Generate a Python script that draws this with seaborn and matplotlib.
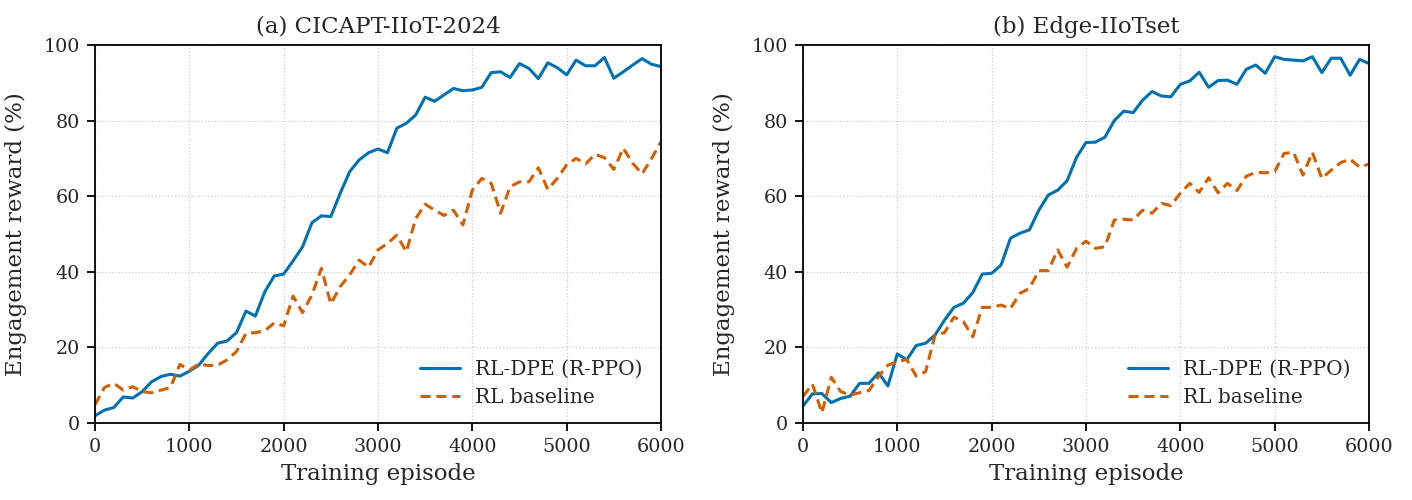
import numpy as np
import pandas as pd
import matplotlib
matplotlib.use("Agg")
import matplotlib.pyplot as plt
import seaborn as sns

# Episodes (every 100)
episodes = list(range(0, 6001, 100))

# (a) CICAPT-IIoT-2024
cicapt_rldpe = [1.9, 3.4, 4.1, 6.9, 6.6, 8.3, 10.9, 12.3, 12.9, 12.4,
                13.7, 15.3, 18.4, 21.1, 21.7, 23.9, 29.6, 28.3, 34.7, 38.9,
                39.4, 42.9, 46.6, 53.0, 54.8, 54.6, 60.8, 66.5, 69.6, 71.5,
                72.5, 71.5, 78.0, 79.3, 81.5, 86.2, 85.1, 86.8, 88.5, 87.9,
                88.1, 88.8, 92.7, 92.9, 91.4, 95.1, 93.8, 91.1, 95.3, 94.0,
                92.1, 96.0, 94.5, 94.5, 96.7, 91.2, 92.9, 94.7, 96.4, 94.9,
                94.3]
cicapt_base = [4.8, 9.4, 10.5, 8.7, 9.6, 8.3, 8.0, 8.7, 9.4, 15.5,
               14.0, 15.6, 15.2, 15.3, 16.7, 18.9, 23.7, 23.9, 24.4, 26.5,
               25.7, 33.6, 29.2, 33.9, 40.9, 31.5, 36.1, 39.2, 43.1, 41.2,
               45.8, 47.5, 49.7, 45.3, 54.1, 57.9, 56.3, 54.9, 56.3, 52.4,
               61.6, 64.7, 63.4, 55.5, 62.5, 63.8, 63.8, 67.5, 61.8, 64.7,
               68.3, 70.0, 68.5, 71.1, 70.2, 67.1, 72.7, 68.7, 65.9, 70.0,
               74.4]

# (b) Edge-IIoTset
edge_rldpe = [4.5, 7.7, 7.8, 5.4, 6.5, 7.1, 10.5, 10.5, 13.3, 9.8,
              18.3, 16.7, 20.5, 21.1, 23.3, 27.2, 30.6, 31.7, 34.5, 39.4,
              39.6, 41.8, 48.9, 50.2, 51.1, 56.3, 60.3, 61.6, 64.1, 70.3,
              74.2, 74.3, 75.6, 80.0, 82.5, 82.1, 85.4, 87.7, 86.5, 86.3,
              89.6, 90.5, 92.8, 88.8, 90.6, 90.7, 89.6, 93.6, 94.7, 92.5,
              96.9, 96.2, 96.0, 95.8, 96.9, 92.7, 96.5, 96.5, 92.0, 96.2,
              95.1]
edge_base = [7.0, 10.3, 2.7, 12.1, 8.3, 7.4, 8.0, 8.6, 12.3, 15.3,
             16.2, 16.8, 12.4, 13.6, 23.3, 23.9, 28.0, 26.8, 22.8, 30.6,
             30.6, 31.2, 30.3, 34.3, 35.6, 40.3, 40.3, 45.8, 41.2, 46.2,
             48.1, 46.2, 46.6, 53.7, 53.9, 53.7, 56.3, 55.5, 58.1, 57.5,
             60.8, 63.4, 61.0, 64.9, 60.9, 63.4, 61.5, 65.3, 66.3, 66.2,
             66.5, 71.3, 71.6, 65.6, 71.6, 64.7, 66.9, 68.9, 69.8, 67.7,
             68.5]

titles = ["(a) CICAPT-IIoT-2024", "(b) Edge-IIoTset"]
methods = ["RL-DPE (R-PPO)", "RL baseline"]

sns.set_style("ticks")
plt.rcParams["font.family"] = ["DejaVu Serif"]

fig, axes = plt.subplots(1, 2, figsize=(14.12, 5.0), dpi=100)
# place the panels where the reference has them (pixels -> figure fractions)
axes[0].set_position([95 / 1412, 77 / 500, 566 / 1412, 378 / 500])
axes[1].set_position([803 / 1412, 77 / 500, 566 / 1412, 378 / 500])

palette = {methods[0]: "#0072B2", methods[1]: "#D55E00"}

for ax, title, ours, base in zip(axes, titles,
                                 [cicapt_rldpe, edge_rldpe],
                                 [cicapt_base, edge_base]):
    df = pd.DataFrame({
        "episode": episodes * 2,
        "reward": ours + base,
        "method": [methods[0]] * len(episodes) + [methods[1]] * len(episodes),
    })
    sns.lineplot(data=df, x="episode", y="reward", hue="method", style="method",
                 palette=palette, dashes={methods[0]: "", methods[1]: (3.3, 1.9)},
                 linewidth=2.2, ax=ax)
    ax.set_xlim(0, 6000)
    ax.set_ylim(0, 100)
    ax.set_xticks(range(0, 6001, 1000))
    ax.set_yticks(range(0, 101, 20))
    ax.grid(True, linestyle=":", color="#cccccc", linewidth=0.9)
    ax.set_title(title, fontsize=16.5, pad=9)
    ax.set_xlabel("Training episode", fontsize=16.5, labelpad=5)
    ax.set_ylabel("Engagement reward (%)", fontsize=16.5, labelpad=12)
    ax.tick_params(labelsize=13.8, direction="out", length=6, width=1.3,
                   color="black", pad=5)
    for s in ax.spines.values():
        s.set_color("black")
        s.set_linewidth(1.3)
    ax.legend(loc="lower right", frameon=False, fontsize=14.5,
              handlelength=2.0, handletextpad=0.75, labelspacing=0.45,
              bbox_to_anchor=(1.0, -0.005))

plt.savefig("out.png", dpi=100)
